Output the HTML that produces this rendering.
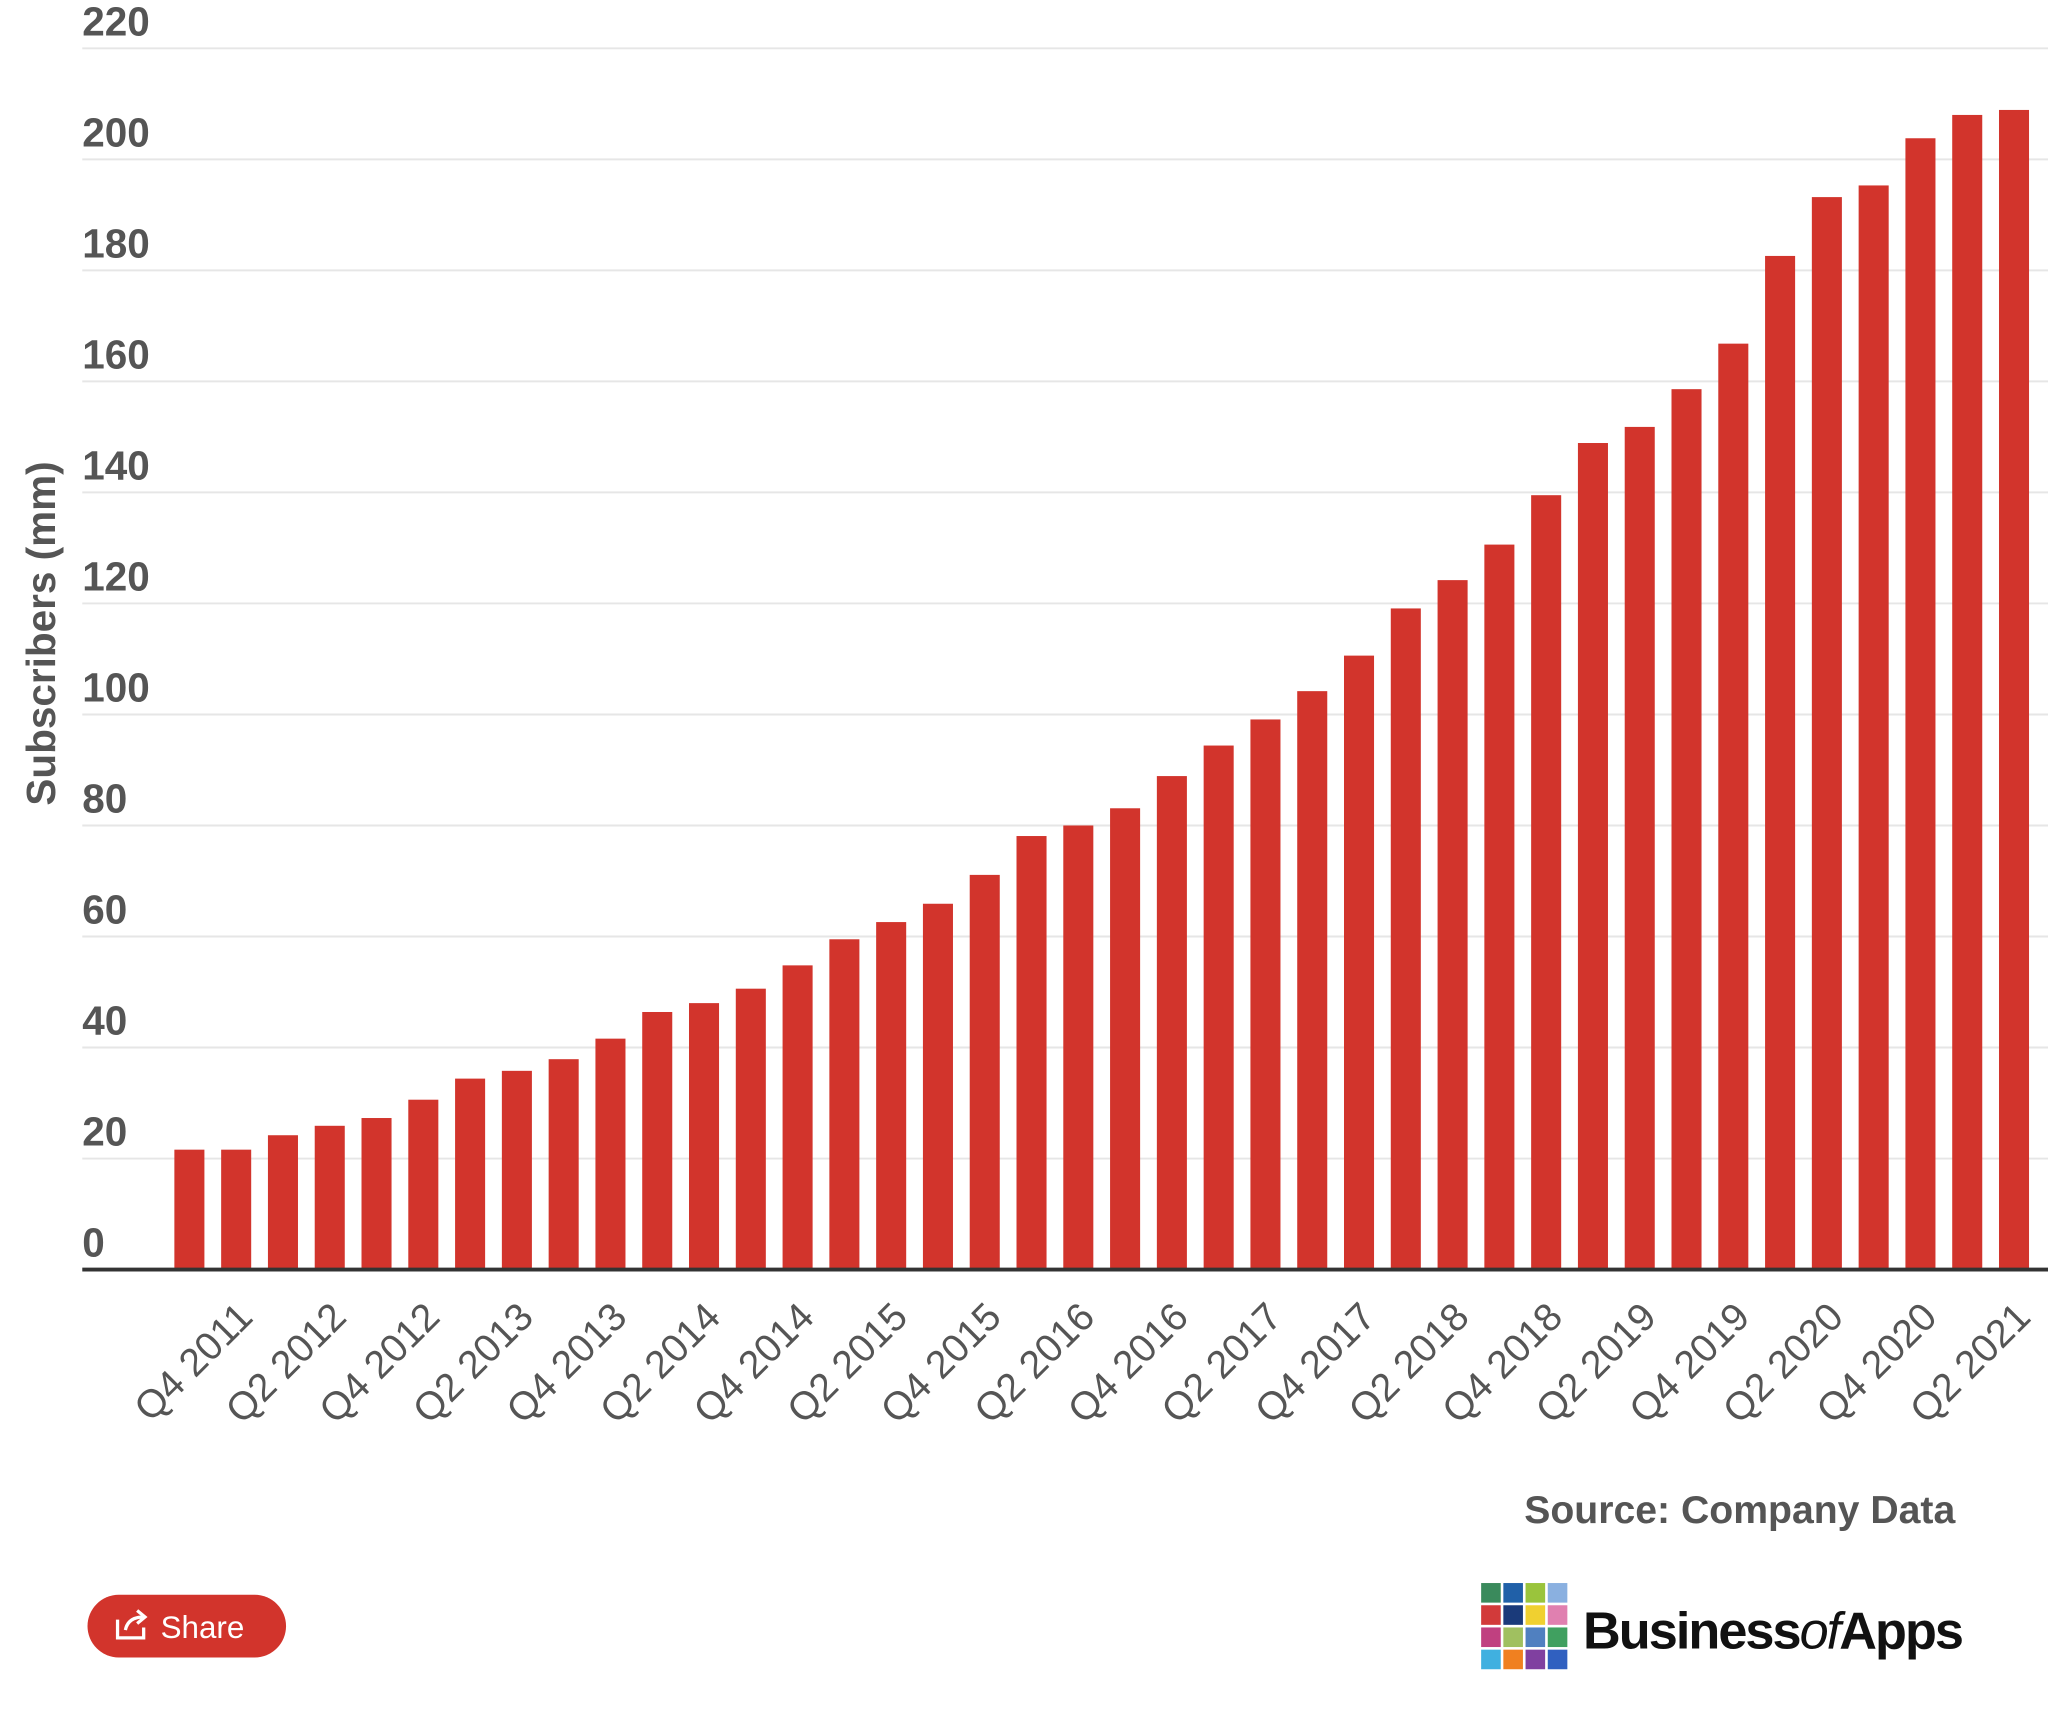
<!DOCTYPE html>
<html><head><meta charset="utf-8"><style>
html,body{margin:0;padding:0;background:#fff;}
svg{display:block;font-family:"Liberation Sans",sans-serif;}
</style></head><body>
<svg id="chart" width="2048" height="1710" viewBox="0 0 1568 1309.2" preserveAspectRatio="none" xmlns="http://www.w3.org/2000/svg">
<g id="grid"></g>
<g id="yticks"></g>
<g id="bars"></g>
<g id="xticks"></g>
<line x1="63" x2="1568" y1="972" y2="972" stroke="#333" stroke-width="3"/>
<text x="0" y="0" transform="translate(42,485) rotate(-90)" text-anchor="middle" font-size="31" font-weight="bold" fill="#555">Subscribers (mm)</text>
<text x="1497" y="1166" text-anchor="end" font-size="30" font-weight="bold" fill="#555">Source: Company Data</text>
<g>
<rect x="67" y="1221" width="152" height="48" rx="24" fill="#d2342c"/>
<path d="M90 1240 v14 h20 v-8 M96 1248 q2 -10 14 -10 M105 1233 l6 5 -6 5" fill="none" stroke="#fff" stroke-width="2.5"/>
<text x="123" y="1254" font-size="24" fill="#fff">Share</text>
</g>
<g id="logo"></g>
<text x="1212" y="1262" font-size="40" font-weight="bold" fill="#111" letter-spacing="-1.5">Business<tspan font-style="italic" font-weight="normal">of</tspan>Apps</text>
</svg>
<script>
const categories = ["Q4 2011","Q1 2012","Q2 2012","Q3 2012","Q4 2012","Q1 2013","Q2 2013","Q3 2013","Q4 2013","Q1 2014","Q2 2014","Q3 2014","Q4 2014","Q1 2015","Q2 2015","Q3 2015","Q4 2015","Q1 2016","Q2 2016","Q3 2016","Q4 2016","Q1 2017","Q2 2017","Q3 2017","Q4 2017","Q1 2018","Q2 2018","Q3 2018","Q4 2018","Q1 2019","Q2 2019","Q3 2019","Q4 2019","Q1 2020","Q2 2020","Q3 2020","Q4 2020","Q1 2021","Q2 2021","Q3 2021"];
const values = [21.6,21.6,24.2,25.9,27.3,30.6,34.4,35.8,37.9,41.6,46.4,48,50.6,54.8,59.5,62.6,65.9,71.1,78.1,80,83.1,88.9,94.4,99.1,104.2,110.6,119.1,124.2,130.6,139.5,148.9,151.8,158.6,166.8,182.6,193.2,195.3,203.8,208,208.9];
const yTicks = [0,20,40,60,80,100,120,140,160,180,200,220];
const NS="http://www.w3.org/2000/svg";
function y(v){return 972 - v*4.25;}
function x(i){return 145 + i*35.82;}
const grid=document.getElementById('grid'), yt=document.getElementById('yticks'), bars=document.getElementById('bars'), xt=document.getElementById('xticks');
yTicks.forEach(t=>{
  const l=document.createElementNS(NS,'line');
  l.setAttribute('x1',63);l.setAttribute('x2',1568);l.setAttribute('y1',y(t));l.setAttribute('y2',y(t));
  l.setAttribute('stroke','#e6e6e6');l.setAttribute('stroke-width','1.5');
  
  
  grid.appendChild(l);
  const tx=document.createElementNS(NS,'text');
  tx.setAttribute('x',63);tx.setAttribute('y',y(t)-10);
  tx.setAttribute('font-size','31');tx.setAttribute('font-weight','bold');tx.setAttribute('fill','#555');
  tx.textContent=t;
  
  
  yt.appendChild(tx);
});
values.forEach((v,i)=>{
  const r=document.createElementNS(NS,'rect');
  r.setAttribute('x',x(i)-11.5);r.setAttribute('width',23);
  r.setAttribute('y',y(v));r.setAttribute('height',972-y(v));
  r.setAttribute('fill','#d2342c');
  
  
  bars.appendChild(r);
});
categories.forEach((c,i)=>{
  if(i%2) return;
  const tx=document.createElementNS(NS,'text');
  const cx=x(i)+50, cy=1010;
  tx.setAttribute('x',cx);tx.setAttribute('y',cy);
  tx.setAttribute('transform','rotate(-45 '+cx+' '+cy+')');
  tx.setAttribute('text-anchor','end');
  tx.setAttribute('font-size','30');tx.setAttribute('fill','#555');
  tx.textContent=c;
  
  
  xt.appendChild(tx);
});
const cols=[["#3a8a5c","#2060a8","#9ac43c","#8ab0e0"],["#d23a3a","#1a3a7a","#f0d030","#e080b0"],["#c04080","#a0c060","#5080c0","#40a060"],["#40b0e0","#f08020","#8040a0","#3060c0"]];
const logo=document.getElementById('logo');
cols.forEach((row,ri)=>row.forEach((col,ci)=>{
  const r=document.createElementNS(NS,'rect');
  r.setAttribute('x',1134+ci*17);r.setAttribute('y',1212+ri*17);
  r.setAttribute('width',15);r.setAttribute('height',15);r.setAttribute('fill',col);
  
  
  logo.appendChild(r);
}));
</script>
</body></html>
